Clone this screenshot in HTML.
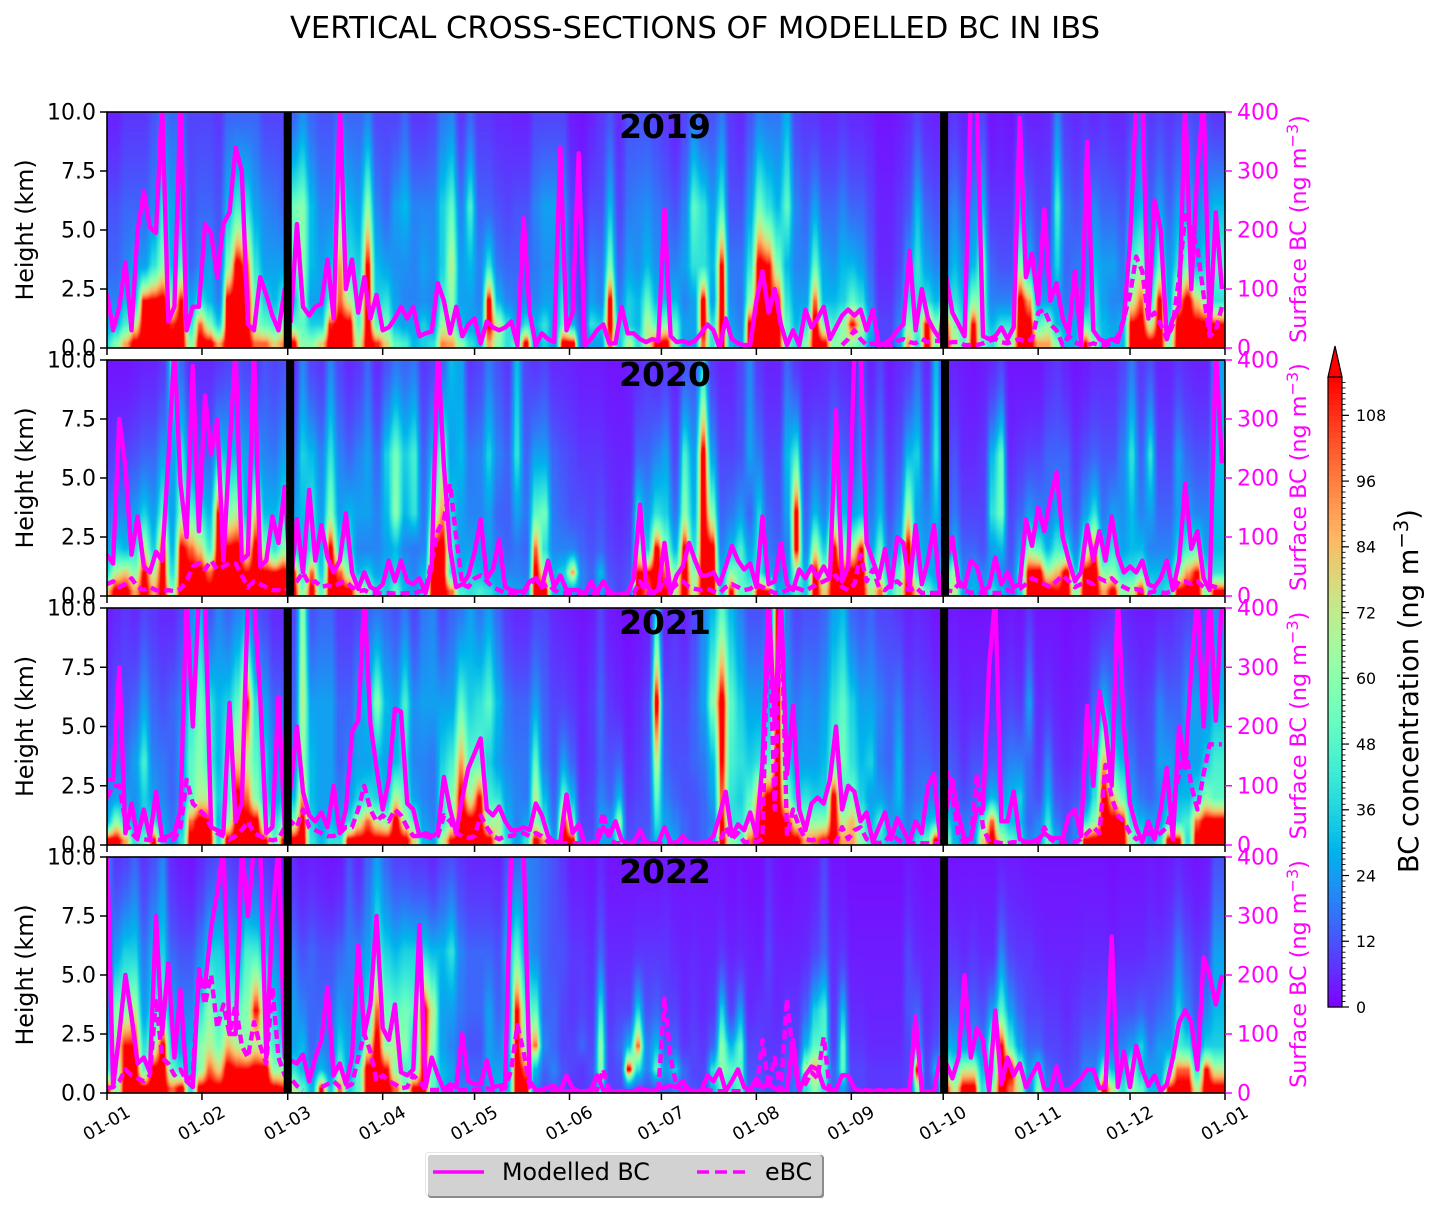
<!DOCTYPE html>
<html><head><meta charset="utf-8"><title>Vertical cross-sections of modelled BC in IBS</title>
<style>
html,body{margin:0;padding:0;background:#fff}
#fig{position:relative;width:1439px;height:1214px;overflow:hidden;background:#fff}
canvas{position:absolute;display:block}
svg{position:absolute;left:0;top:0}
text{font-family:"DejaVu Sans","Liberation Sans",sans-serif}
</style></head><body>
<div id="fig"></div>
<script>
const heightLevelsKm=[0.2,1,2,3.5,6,9.8];
const heightTicks=[0,2.5,5,7.5,10];
const surfaceTicks=[0,100,200,300,400];
const monthDays=[0,31,59,90,120,151,181,212,243,273,304,334,365];
const monthLabels=['01-01','01-02','01-03','01-04','01-05','01-06','01-07','01-08','01-09','01-10','01-11','01-12','01-01'];
const colorbarTicks=[0,12,24,36,48,60,72,84,96,108];
const years=['2019','2020','2021','2022'];
const gapDays2019=[59,273.3],gapDays2020=[59.8,273.6],gapDays2021=[59,273.3],gapDays2022=[59,273.3];
const _=null;
// heat columns: concentration (ng m-3) at each height level, about 3 days apart
const heat2019=[[40,25,20,15,12,5],[60,30,20,15,12,5],[90,45,30,20,15,8],[125,70,35,25,15,8],[125,125,115,25,15,8],[125,125,120,40,20,12],[125,125,125,60,40,18],[125,110,60,30,25,15],[125,125,115,50,25,15],[60,40,25,15,12,10],
[125,100,40,20,15,10],[125,60,30,25,15,10],[90,35,20,15,12,8],[125,125,125,60,30,15],[125,125,125,125,45,15],[125,125,125,100,40,15],[100,60,55,40,25,15],[100,50,35,25,20,10],[80,45,30,25,18,10],[95,60,45,25,15,10],
[125,50,30,50,55,15],[60,50,60,60,60,22],[60,35,25,30,30,15],[80,35,25,25,20,12],[125,110,50,30,20,12],[125,125,100,90,50,18],[125,125,70,40,30,15],[70,50,45,35,25,15],[125,125,125,115,60,20],[110,50,35,30,20,10],
[80,55,40,25,15,10],[50,30,25,22,25,10],[45,25,20,22,30,15],[30,25,20,20,20,8],[35,35,22,25,20,8],[40,25,20,22,20,10],[95,65,45,35,35,18],[90,60,60,70,50,20],[60,30,25,25,20,8],[40,25,25,30,45,15],
[30,25,20,20,15,8],[90,120,120,40,15,8],[60,70,30,18,12,6],[40,40,20,15,10,6],[50,25,18,15,12,5],[125,40,20,15,12,5],[25,30,20,18,20,10],[35,40,25,22,25,10],[25,25,25,22,25,10],[125,50,40,30,22,10],
[125,30,15,12,10,4],[15,12,10,8,6,3],[25,40,25,20,12,5],[25,35,20,18,12,8],[100,120,120,55,30,12],[35,35,20,15,10,6],[70,35,35,25,18,12],[40,30,30,22,20,12],[70,70,50,30,22,12],[115,50,30,22,18,10],
[125,60,30,20,15,8],[60,50,30,20,12,5],[25,25,20,25,20,10],[25,25,25,40,50,18],[100,125,125,40,40,12],[40,40,25,30,25,12],[125,125,125,115,45,18],[30,25,20,18,12,8],[25,20,18,18,12,6],[125,120,60,40,25,12],
[125,125,125,125,55,20],[125,125,115,115,40,18],[125,120,115,60,30,18],[50,50,40,30,50,28],[40,30,25,20,20,10],[60,40,25,20,15,8],[125,125,100,50,25,8],[120,55,30,25,15,6],[60,45,30,22,15,6],[65,60,35,30,20,8],
[60,115,50,30,15,6],[50,70,40,25,15,6],[25,30,20,15,10,5],[10,10,8,6,5,3],[10,10,8,6,5,3],[25,20,15,10,8,4],[90,60,40,25,12,6],[40,50,40,40,30,10],[125,115,40,25,15,6],[60,60,30,20,12,5],
[125,100,40,20,15,6],[70,60,40,30,20,8],[50,40,30,20,12,5],[125,115,60,30,20,8],[50,50,55,55,30,10],[40,30,20,15,8,3],[70,40,20,12,8,4],[60,40,20,12,8,3],[125,125,125,60,25,8],[125,125,90,30,15,5],
[90,50,25,15,10,5],[90,60,25,15,10,6],[60,30,25,35,45,20],[30,25,18,15,15,8],[30,25,20,18,12,6],[115,50,25,18,15,8],[60,40,40,30,20,6],[30,30,25,25,15,8],[30,25,20,25,15,6],[30,30,20,18,12,6],
[125,120,70,50,25,10],[125,125,100,60,30,15],[125,70,40,25,15,8],[125,125,120,50,25,10],[60,40,30,25,15,8],[125,125,90,40,25,10],[125,125,125,55,30,12],[125,125,80,30,20,10],[125,125,60,35,25,10],[125,115,40,50,30,8]];
const heat2020=[[85,40,25,18,8,3],[125,70,35,20,10,3],[125,80,30,20,10,3],[90,60,40,25,12,4],[125,115,70,35,15,5],[90,70,35,25,15,5],[125,120,120,50,25,8],[60,40,30,25,25,40],[125,125,120,60,40,15],[125,125,100,50,20,6],
[125,125,80,40,15,6],[125,100,45,30,15,6],[125,125,125,115,35,8],[125,125,120,60,30,10],[125,125,125,70,30,12],[125,115,70,30,25,10],[125,125,125,80,25,8],[125,120,60,30,20,12],[125,115,40,30,18,10],[125,125,60,40,25,12],
[125,115,35,25,15,6],[60,40,30,30,35,20],[120,100,40,40,30,10],[50,35,30,25,20,8],[125,125,120,60,40,20],[125,100,40,25,20,10],[125,60,40,30,15,6],[70,30,20,25,20,8],[60,35,20,25,25,15],[40,25,20,20,15,6],
[35,30,25,30,35,12],[50,35,30,60,55,18],[30,25,20,30,35,15],[25,20,18,40,45,18],[35,30,20,18,15,8],[125,125,120,55,30,10],[125,125,125,90,60,15],[100,40,45,35,25,30],[45,30,25,25,30,25],[40,35,25,20,18,8],
[45,30,25,20,20,10],[40,25,25,25,35,18],[30,25,18,15,20,12],[30,20,15,14,15,8],[25,20,18,25,40,30],[25,18,15,18,15,10],[120,120,100,50,25,8],[125,65,40,55,25,10],[30,30,20,18,15,6],[30,35,20,15,12,6],
[25,90,20,12,10,5],[20,20,15,12,8,4],[15,15,12,10,8,4],[25,30,15,12,8,4],[15,12,10,8,6,3],[10,10,8,6,5,3],[15,12,10,8,5,4],[125,115,60,40,15,6],[100,115,35,25,15,8],[125,125,120,40,20,6],
[115,100,60,35,25,8],[70,60,30,18,10,5],[125,125,120,60,45,12],[70,60,40,30,25,12],[125,125,125,125,125,35],[125,125,125,60,25,8],[35,30,20,15,10,5],[115,60,30,18,10,5],[50,50,45,25,12,10],[50,35,25,15,25,20],
[125,40,40,35,18,8],[115,25,18,15,10,5],[30,20,15,12,10,5],[30,25,20,25,30,15],[45,60,120,120,45,8],[35,30,20,15,10,5],[125,120,70,30,15,5],[80,60,35,20,12,6],[125,125,120,50,20,8],[125,115,60,30,15,6],
[125,125,70,25,12,5],[125,125,115,30,20,12],[70,50,25,18,12,5],[100,60,50,30,20,10],[40,30,18,12,8,4],[60,50,30,20,12,6],[125,120,125,70,30,8],[80,40,30,25,35,15],[50,30,25,20,12,6],[35,25,25,30,40,30],
[70,40,15,12,8,5],[70,65,30,18,12,5],[25,20,15,10,6,4],[30,25,15,10,6,3],[25,20,12,10,8,4],[40,25,25,40,30,6],[30,20,30,55,50,10],[20,15,12,10,6,3],[35,40,25,15,8,3],[125,120,60,25,10,3],
[125,125,50,20,10,3],[125,70,30,18,15,6],[115,85,45,25,15,8],[125,125,40,20,15,5],[60,35,20,12,8,3],[125,125,60,25,12,4],[125,125,100,40,15,6],[90,60,30,18,12,6],[125,60,40,25,12,6],[60,40,25,22,20,10],
[70,40,30,30,40,18],[125,50,30,20,15,8],[40,30,20,25,40,12],[35,30,20,15,10,5],[40,30,20,15,10,5],[120,60,35,25,25,8],[125,90,45,25,15,6],[125,115,50,20,12,5],[60,40,25,20,12,5],[120,40,30,30,30,25]];
const heat2021=[[125,30,20,15,8,4],[125,60,25,18,12,6],[90,40,25,18,12,8],[40,25,22,25,15,6],[50,35,35,45,25,10],[120,40,25,20,15,8],[35,25,20,18,12,6],[20,18,15,15,15,6],[40,30,25,25,20,10],[125,100,50,50,40,20],
[125,125,70,60,55,30],[125,115,70,45,40,12],[40,30,35,30,30,20],[125,60,45,50,35,15],[125,125,125,80,50,20],[125,125,100,70,115,25],[125,125,60,50,40,12],[115,50,35,35,25,10],[50,40,25,20,15,6],[120,50,30,20,15,6],
[125,60,30,20,15,10],[125,120,90,60,70,60],[40,35,30,30,25,12],[30,25,25,25,25,15],[40,30,25,25,25,15],[40,25,20,15,15,8],[125,40,25,20,15,8],[125,70,35,25,25,10],[125,100,40,25,30,15],[125,70,35,30,60,18],
[125,60,30,25,30,15],[125,125,70,30,25,12],[125,65,50,40,45,18],[80,50,25,20,22,10],[30,25,20,20,25,18],[25,20,18,18,25,20],[70,40,45,35,25,10],[115,60,60,45,25,15],[125,125,120,90,50,18],[125,125,70,50,35,25],
[125,125,115,50,40,18],[125,60,45,35,50,25],[70,70,40,25,30,15],[40,30,25,20,18,8],[25,20,20,18,15,6],[40,25,18,18,15,6],[120,60,70,50,25,10],[90,40,30,18,15,10],[25,18,15,12,10,6],[125,115,50,25,10,5],
[120,50,30,15,8,4],[12,10,8,6,5,3],[12,10,10,8,8,4],[25,25,20,15,15,10],[25,25,15,12,8,4],[50,60,30,15,6,3],[12,10,8,6,4,2],[12,12,10,8,6,3],[15,12,12,12,10,4],[30,40,50,70,125,35],
[30,25,20,15,12,5],[25,20,15,12,10,8],[15,15,12,12,10,5],[12,12,12,15,15,10],[15,15,15,18,25,20],[25,20,25,30,60,30],[125,115,100,115,125,50],[60,40,40,45,50,30],[50,40,35,40,35,20],[100,60,50,35,25,12],
[125,125,90,40,25,12],[125,125,125,50,30,15],[125,125,125,125,125,125],[125,115,60,35,25,18],[125,70,35,25,18,10],[90,60,40,25,22,12],[100,60,35,25,20,12],[115,60,35,30,25,15],[125,125,125,50,40,25],[90,70,45,55,50,30],
[90,85,55,40,35,15],[60,50,35,30,25,12],[40,30,25,35,25,15],[40,45,25,18,20,10],[30,25,20,15,15,10],[25,25,30,30,20,8],[20,18,15,12,10,5],[40,25,18,15,12,6],[50,30,20,15,10,5],[125,35,18,12,8,3],
[70,40,25,15,8,3],[30,25,15,12,8,4],[20,18,12,8,5,3],[25,20,15,12,6,3],[80,50,20,12,6,3],[125,100,30,15,8,3],[70,40,25,15,8,3],[50,30,30,20,10,4],[40,30,35,20,8,3],[20,15,15,15,25,8],
[25,20,12,8,6,3],[50,40,30,20,8,3],[30,18,12,8,5,3],[15,12,10,6,4,2],[20,20,12,8,5,3],[120,40,18,12,6,3],[125,60,40,30,15,5],[125,125,125,85,30,6],[125,125,80,40,18,8],[125,120,55,30,15,6],
[60,40,25,18,10,5],[40,30,18,12,8,4],[25,25,15,12,10,4],[40,25,20,25,20,6],[125,40,25,25,15,6],[120,40,30,20,15,8],[40,45,30,25,25,10],[125,100,40,25,25,10],[125,125,60,35,20,12],[125,125,50,45,30,20]];
const heat2022=[[115,40,30,20,10,25],[60,60,70,60,25,8],[125,120,115,60,35,10],[125,125,115,70,35,15],[125,50,40,25,18,8],[125,125,60,40,30,12],[125,125,120,50,35,20],[100,50,35,25,15,6],[125,40,25,20,12,4],[40,30,30,20,12,3],
[125,60,60,40,20,6],[125,100,70,60,35,10],[125,80,55,45,35,12],[125,125,85,50,30,10],[125,115,70,50,25,8],[125,115,60,60,45,12],[125,125,70,115,45,10],[125,125,60,60,30,8],[125,60,45,35,20,6],[115,60,35,25,15,4],
[70,40,25,25,18,6],[50,30,30,20,12,4],[30,20,15,15,15,5],[115,30,20,15,12,4],[35,20,18,15,12,3],[100,50,35,25,15,4],[35,25,25,20,20,12],[50,50,25,25,20,6],[125,125,70,40,25,15],[125,125,125,100,45,25],
[125,115,60,55,35,15],[100,60,70,50,30,10],[60,45,60,55,35,10],[120,50,35,50,35,8],[115,115,125,125,35,8],[50,50,60,70,30,6],[30,30,25,25,30,10],[25,25,20,25,40,12],[20,15,15,18,20,8],[20,15,12,15,15,6],
[15,15,12,15,15,6],[25,25,25,25,15,6],[30,25,20,15,12,5],[30,25,30,20,30,12],[125,125,115,115,50,15],[125,100,60,50,25,20],[20,30,100,50,20,18],[12,15,20,15,15,15],[15,20,15,15,12,12],[12,12,10,10,12,8],
[8,10,10,8,8,4],[8,8,15,10,8,4],[10,12,10,8,6,3],[40,60,60,40,15,6],[10,10,10,8,6,3],[10,12,15,10,6,3],[20,125,30,10,6,3],[15,40,100,35,8,3],[12,20,20,12,8,3],[15,50,30,15,8,3],
[15,25,15,10,8,4],[20,35,15,10,6,3],[15,15,8,6,5,3],[12,10,10,8,6,3],[10,10,8,6,5,3],[30,40,15,8,5,3],[50,60,60,35,8,3],[40,50,30,10,5,2],[50,50,50,25,6,3],[15,12,10,6,5,2],
[15,12,10,8,4,2],[12,10,8,8,10,6],[12,10,8,6,5,3],[15,15,12,8,5,2],[20,15,10,8,5,3],[40,70,30,15,6,3],[60,90,50,35,10,4],[40,50,50,45,15,10],[15,15,10,8,6,3],[25,50,50,30,8,3],
[10,10,8,6,4,2],[10,10,8,6,4,2],[8,8,6,5,4,2],[8,8,6,5,4,2],[8,8,6,5,4,2],[8,8,6,5,4,2],[10,10,10,12,10,4],[60,125,30,15,6,3],[10,10,8,6,5,2],[15,30,12,8,5,2],
[115,60,30,15,8,3],[70,45,25,15,8,3],[125,70,25,12,6,3],[125,70,25,15,8,3],[40,30,20,12,6,3],[60,40,60,25,6,3],[125,125,115,50,20,5],[100,125,50,25,10,4],[70,60,25,15,8,4],[20,25,15,10,8,3],
[60,40,15,10,6,3],[20,15,10,8,5,3],[15,12,10,8,5,3],[12,10,8,6,5,3],[15,12,10,8,5,3],[25,20,15,10,6,3],[30,20,15,10,6,3],[125,50,20,12,6,3],[70,30,15,10,5,2],[40,30,20,12,6,3],
[60,60,25,12,6,3],[50,30,35,15,6,3],[30,25,18,12,8,4],[30,25,25,15,8,3],[115,50,25,18,10,4],[125,100,45,35,20,6],[125,100,40,20,12,4],[70,40,20,12,8,3],[125,115,35,20,10,4],[125,70,35,30,25,12]];
// surface series: one value every 2 days (ng m-3)
const model2019=[93,30,70,145,30,200,265,205,195,420,45,70,420,30,70,70,210,195,120,210,230,340,300,40,30,120,90,55,30,100,
45,210,70,55,70,75,150,50,420,100,150,60,120,50,90,30,35,50,70,50,70,20,25,28,110,80,25,70,20,40,
50,8,45,35,30,35,45,5,220,60,5,25,15,10,340,30,60,330,5,15,30,40,8,8,70,25,25,15,10,15,12,235,20,10,12,8,12,
25,40,30,0,50,15,8,5,5,80,130,60,100,40,5,30,5,65,35,50,70,15,35,55,65,55,65,30,65,5,8,15,30,40,165,30,100,50,30,15,
120,60,40,20,420,420,20,15,20,35,15,35,390,120,160,75,235,80,110,50,25,130,10,350,30,15,10,15,10,50,180,420,420,50,250,200,15,50,70,420,100,300,420,30,230,100];
const ebc2019=[_,_,_,_,_,_,_,_,_,_,_,_,_,_,_,_,_,_,_,_,_,_,_,_,_,_,_,_,_,_,_,_,_,_,_,_,_,_,_,_,_,_,_,_,_,_,_,_,_,_,_,_,_,_,_,_,_,_,_,_,_,_,_,_,_,_,_,_,_,_,_,_,_,_,_,_,_,_,_,_,_,_,_,_,_,_,_,_,_,_,_,_,_,_,_,_,_,_,_,_,_,_,_,_,_,_,_,_,_,_,_,_,_,_,_,_,_,_,_,_,
5,15,30,15,5,8,5,5,5,12,15,10,8,15,10,12,12,8,10,10,5,5,5,8,12,15,10,8,12,15,10,
15,60,65,40,30,5,20,10,5,5,8,5,5,8,20,50,90,155,130,50,60,40,15,40,120,225,200,170,90,20,30,70];
const model2020=[70,55,300,220,70,135,50,40,75,60,230,420,190,100,390,110,340,240,300,60,250,420,60,70,420,50,60,135,90,185,
20,130,40,180,60,120,65,40,60,140,40,12,40,15,10,20,60,25,60,25,20,30,5,50,420,220,80,15,20,35,
75,130,30,45,95,15,10,8,8,25,30,15,60,15,35,10,10,10,2,25,5,25,8,2,2,5,30,155,20,5,10,90,5,35,50,90,60,
35,35,40,20,50,85,60,45,55,15,135,20,25,90,20,10,45,30,50,30,50,30,315,25,50,420,420,90,60,30,80,15,100,90,15,120,20,60,120,5,
60,100,25,15,60,50,10,15,65,20,40,15,20,130,85,150,110,165,210,100,60,25,40,120,60,110,60,135,70,40,50,40,60,20,15,30,60,10,60,190,80,110,30,10,420,225];
const ebc2020=[20,25,15,20,30,15,10,15,10,8,10,8,12,25,50,55,45,60,45,50,55,55,35,15,25,20,15,10,10,8,
15,25,40,20,25,15,18,15,22,25,15,8,10,5,5,4,5,4,4,5,4,8,10,60,110,130,190,100,20,15,
30,35,25,15,10,5,5,5,5,20,30,15,20,10,5,5,5,3,3,3,3,3,3,3,3,3,5,25,5,3,5,30,10,20,25,15,12,
10,12,8,5,15,20,15,10,12,20,15,10,5,5,10,15,12,8,15,20,25,30,35,15,10,20,70,25,45,15,10,20,25,15,10,15,5,5,5,5,
10,8,20,10,5,8,5,5,5,5,10,8,12,20,30,25,20,15,25,35,25,15,20,25,20,30,25,30,20,15,10,12,8,5,8,6,5,10,25,25,20,25,15,18,15,12];
const model2021=[110,110,300,20,70,12,60,12,90,12,15,20,60,420,200,420,420,30,25,20,240,40,70,420,420,250,20,30,250,30,
100,200,90,50,40,55,30,100,20,60,190,210,420,205,130,60,110,230,225,70,60,15,20,15,20,115,60,20,80,130,
155,180,60,50,65,40,25,25,30,25,70,50,15,5,5,85,20,35,2,3,5,30,15,40,8,3,4,25,4,3,3,30,4,4,15,4,3,
4,5,15,50,90,15,35,25,55,15,140,420,200,420,120,235,60,25,70,80,70,110,200,60,100,90,40,55,5,30,55,10,45,25,5,40,20,100,120,10,
60,110,50,10,10,60,60,300,420,40,40,90,10,5,5,10,20,12,12,12,50,60,15,235,100,260,200,100,420,200,70,30,5,40,10,60,130,10,200,130,300,420,200,420,210,420];
const ebc2021=[80,100,100,40,20,10,10,8,10,8,8,10,30,110,70,60,50,30,20,15,10,15,25,40,20,15,10,8,10,30,
40,30,60,30,25,20,15,15,20,30,30,60,100,60,40,50,40,60,50,30,15,15,15,12,15,50,40,20,15,12,
15,50,30,15,10,15,15,20,20,15,20,15,5,3,3,3,3,3,3,3,10,55,10,3,3,3,3,3,3,3,3,3,3,3,3,3,3,
3,3,3,3,30,10,20,5,5,5,10,420,60,420,15,60,30,10,8,10,5,8,5,30,10,25,30,10,5,3,5,20,10,3,3,3,3,3,3,3,
130,90,15,5,5,120,30,5,5,3,3,5,3,3,3,5,30,10,3,5,3,5,10,20,30,20,135,80,50,40,20,10,15,20,15,20,30,70,120,170,100,60,120,170,170,170];
const model2022=[420,10,100,200,130,50,60,35,300,100,220,60,175,20,10,200,180,280,340,420,100,100,420,300,420,420,60,300,420,60,
55,50,65,20,60,90,180,30,50,15,60,250,100,150,300,110,90,150,35,30,40,285,10,60,30,5,15,10,100,20,
15,15,55,10,12,15,420,420,420,20,5,5,10,12,3,30,8,3,3,5,30,5,3,3,3,3,3,8,5,3,8,10,12,10,20,5,3,
3,30,20,40,3,20,40,10,5,25,10,15,8,3,5,90,3,30,45,40,10,5,5,30,30,8,3,5,3,5,3,5,3,5,3,130,3,3,3,60,
50,25,60,200,60,110,90,3,140,15,60,30,50,10,30,50,8,3,45,5,5,15,25,40,40,8,10,265,10,70,10,80,40,12,30,3,15,60,120,140,120,40,230,200,150,200];
const ebc2022=[8,10,20,40,30,25,20,30,160,60,50,30,40,20,30,210,150,200,110,150,100,150,80,60,120,80,50,180,60,30,
25,12,5,_,_,10,15,20,10,10,15,60,100,70,20,30,20,15,8,10,30,20,5,5,5,5,5,5,5,5,
5,5,8,5,5,8,40,115,70,10,5,3,3,3,3,3,3,3,3,3,5,40,5,3,3,3,3,3,3,3,3,160,60,10,5,5,3,
5,5,3,3,3,3,3,3,3,3,90,10,60,5,160,60,5,15,35,25,95,5,3];
const heats=[heat2019,heat2020,heat2021,heat2022];
const models=[model2019,model2020,model2021,model2022];
const ebcs=[ebc2019,ebc2020,ebc2021,ebc2022];
const gaps=[gapDays2019,gapDays2020,gapDays2021,gapDays2022];

const NS='http://www.w3.org/2000/svg';
const fig=document.getElementById('fig');
const PX0=107,PX1=1225,ZMAX=115;
const panelTop=[112,360,608,857],panelBottom=[348,596,845,1093];
const dayToX=d=>PX0+d*(PX1-PX0)/365;
const svg=document.createElementNS(NS,'svg');
svg.setAttribute('width','1439');svg.setAttribute('height','1214');


function mk(tag,attrs,parent){const e=document.createElementNS(NS,tag);for(const k in attrs)e.setAttribute(k,attrs[k]);(parent||svg).appendChild(e);return e;}
function rainbow(v){const x=Math.max(0,Math.min(1,v/ZMAX));
  const cl=t=>Math.max(0,Math.min(1,t))*255;
  return [cl(Math.abs(2*x-0.5)),cl(Math.sin(Math.PI*x)),cl(Math.cos(Math.PI*x/2))];}
function geo(a,b,t){return Math.pow(Math.max(a,1),1-t)*Math.pow(Math.max(b,1),t);}
function sampleHeat(h,day,km){
  const n=h.length,m=heightLevelsKm.length;
  let c=day/(365/n);c=Math.max(0,Math.min(n-1,c));
  const c0=Math.floor(c),c1=Math.min(n-1,c0+1);
  const tc=Math.max(0,Math.min(1,(c-c0-0.15)/0.7));
  let r=0;while(r<m-2&&km>heightLevelsKm[r+1])r++;
  let t=(km-heightLevelsKm[r])/(heightLevelsKm[r+1]-heightLevelsKm[r]);t=Math.max(0,Math.min(1,t));
  const a=geo(h[c0][r],h[c0][r+1],t),b=geo(h[c1][r],h[c1][r+1],t);
  return geo(a,b,tc);}
function drawHeat(idx){
  const cv=document.createElement('canvas');
  const W=PX1-PX0,H=panelBottom[idx]-panelTop[idx];
  cv.width=W;cv.height=H;cv.style.left=PX0+'px';cv.style.top=panelTop[idx]+'px';
  
  
  const g=cv.getContext('2d'),im=g.createImageData(W,H);
  for(let y=0;y<H;y++){const km=10*(1-(y+0.5)/H);
    for(let x=0;x<W;x++){const d=(x+0.5)*365/W;const c=rainbow(sampleHeat(heats[idx],d,km));
      const o=(y*W+x)*4;im.data[o]=c[0];im.data[o+1]=c[1];im.data[o+2]=c[2];im.data[o+3]=255;}}
  g.putImageData(im,0,0);fig.appendChild(cv);}
function unitTspans(t,fs){
  const a=mk('tspan',{},t);a.textContent='(ng m';
  const b=mk('tspan',{dy:-fs*0.36,'font-size':fs*0.72},t);b.textContent='\u22123';
  const c=mk('tspan',{dy:fs*0.36},t);c.textContent=')';}
function seriesPath(vals,yS,parent,dash,name){
  let d='',pen=false;
  vals.forEach((v,i)=>{if(v===null){pen=false;return;}
    d+=(pen?'L':'M')+dayToX(i*2).toFixed(1)+' '+yS(v).toFixed(1);pen=true;});
  const p=mk('path',{d:d,fill:'none',stroke:'#ff00ff','stroke-width':4.4,'stroke-linejoin':'round'},parent);
  if(dash)p.setAttribute('stroke-dasharray',dash);
  
  }
years.forEach((yr,idx)=>{
  drawHeat(idx);
  const T=panelTop[idx],B=panelBottom[idx];
  const yKm=k=>B-(B-T)*k/10,yS=v=>B-(B-T)*v/400;
  const defs=mk('defs',{});
  const cp=mk('clipPath',{id:'clip'+yr},defs);
  mk('rect',{x:PX0,y:T,width:PX1-PX0,height:B-T},cp);
  const plot=mk('g',{'clip-path':'url(#clip'+yr+')'});
  
  
  seriesPath(models[idx],yS,plot,null,'modelled-bc-line-'+yr);
  seriesPath(ebcs[idx],yS,plot,'9 5','ebc-line-'+yr);
  gaps[idx].forEach(g=>{
    const r=mk('rect',{x:dayToX(g)-4,y:T,width:8,height:B-T,fill:'#000'},plot);
    
    });
  const fr=mk('rect',{x:PX0,y:T,width:PX1-PX0,height:B-T,fill:'none',stroke:'#000','stroke-width':1.6});
  
  
  heightTicks.forEach(k=>{
    mk('line',{x1:PX0-7,x2:PX0,y1:yKm(k),y2:yKm(k),stroke:'#000','stroke-width':1.5});
    const t=mk('text',{x:PX0-11,y:yKm(k)+7.5,'text-anchor':'end','font-size':22,fill:'#000'});
    t.textContent=k.toFixed(1);
    
    });
  surfaceTicks.forEach(v=>{
    mk('line',{x1:PX1,x2:PX1+7,y1:yS(v),y2:yS(v),stroke:'#ff00ff','stroke-width':1.5});
    const t=mk('text',{x:PX1+12,y:yS(v)+7.5,'font-size':22,fill:'#ff00ff'});
    t.textContent=v;
    
    });
  monthDays.forEach(d=>mk('line',{x1:dayToX(d),x2:dayToX(d),y1:B,y2:B+7,stroke:'#000','stroke-width':1.5}));
  const yl=mk('text',{transform:'translate(33,'+((T+B)/2)+') rotate(-90)','text-anchor':'middle','font-size':23.7,fill:'#000'});
  yl.textContent='Height (km)';
  
  
  const yr2=mk('text',{transform:'translate(1306,'+((T+B)/2-1)+') rotate(-90)','text-anchor':'middle','font-size':22.3,fill:'#ff00ff'});
  const s=mk('tspan',{},yr2);s.textContent='Surface BC ';
  unitTspans(yr2,22.3);
  
  
  const lab=mk('text',{x:665,y:T+26,'text-anchor':'middle','font-size':33,'font-weight':'bold',fill:'#000'});
  lab.textContent=yr;
  
  
});
monthDays.forEach((d,i)=>{
  const x=dayToX(d);
  const t=mk('text',{transform:'translate('+x+',1124) rotate(-30)','text-anchor':'middle','dominant-baseline':'central','font-size':17.5,fill:'#000'});
  t.textContent=monthLabels[i];
  
  });
const title=mk('text',{x:695,y:38,'text-anchor':'middle','font-size':30.6,fill:'#000'});
title.textContent='VERTICAL CROSS-SECTIONS OF MODELLED BC IN IBS';


// colorbar
const CB0=1007,CB1=377,CX0=1328,CX1=1342;
const cbY=v=>CB0-(CB0-CB1)*v/ZMAX;
const cb=mk('g',{});


for(let v=0;v<ZMAX;v++){const c=rainbow(v+0.5);
  mk('rect',{x:CX0,y:cbY(v+1),width:CX1-CX0,height:(CB0-CB1)/ZMAX+0.6,fill:'rgb('+c.map(Math.round).join(',')+')'},cb);}
mk('polygon',{points:CX0+','+CB1+' '+CX1+','+CB1+' 1335,346',fill:'#ff0000',stroke:'#000','stroke-width':1.2},cb);
mk('path',{d:'M'+CX0+' '+CB1+'V'+CB0+'H'+CX1+'V'+CB1,fill:'none',stroke:'#000','stroke-width':1.2},cb);
for(let v=0;v<ZMAX;v++){mk('line',{x1:CX1,x2:CX1+3.5,y1:cbY(v),y2:cbY(v),stroke:'#000','stroke-width':0.9},cb);}
colorbarTicks.forEach(v=>{
  mk('line',{x1:CX1,x2:CX1+7,y1:cbY(v),y2:cbY(v),stroke:'#000','stroke-width':1.2},cb);
  const t=mk('text',{x:1356,y:cbY(v)+5.8,'font-size':15.8,fill:'#000'},cb);
  t.textContent=v;
  
  });
const cbl=mk('text',{transform:'translate(1418,691) rotate(-90)','text-anchor':'middle','font-size':27.3,fill:'#000'});
const cbs=mk('tspan',{},cbl);cbs.textContent='BC concentration ';
unitTspans(cbl,27.3);


// legend
const lg=mk('g',{});


mk('rect',{x:425.5,y:1152.5,width:396,height:43,rx:3,fill:'#fff',stroke:'#e6e6e6'},lg);
mk('rect',{x:428,y:1155,width:396,height:43,rx:3,fill:'#8c8c8c'},lg);
mk('rect',{x:428,y:1155,width:394,height:41,rx:3,fill:'#d2d2d2'},lg);
mk('line',{x1:433,x2:484,y1:1172,y2:1172,stroke:'#ff00ff','stroke-width':3.4},lg);
mk('line',{x1:697,x2:746,y1:1172,y2:1172,stroke:'#ff00ff','stroke-width':3.4,'stroke-dasharray':'12 6'},lg);
const l1=mk('text',{x:502,y:1180,'font-size':23.8,fill:'#000'},lg);
l1.textContent='Modelled BC';


const l2=mk('text',{x:765,y:1180,'font-size':23.8,fill:'#000'},lg);
l2.textContent='eBC';


fig.appendChild(svg);
</script>
</body></html>
